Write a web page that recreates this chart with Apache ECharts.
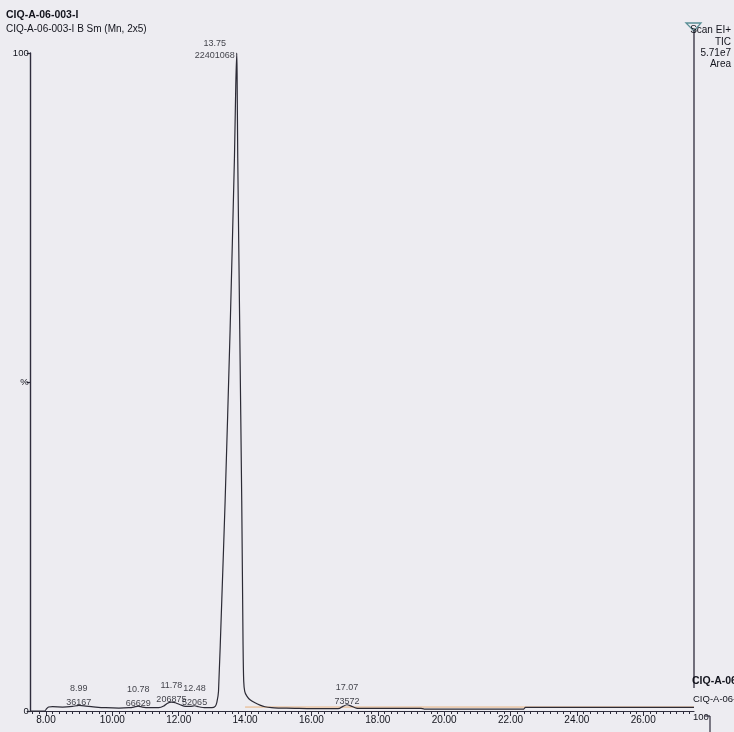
<!DOCTYPE html>
<html><head><meta charset="utf-8">
<script src="https://cdn.jsdelivr.net/npm/echarts@6/dist/echarts.min.js"></script>
<style>html,body{margin:0;padding:0;background:#edecf1}#c{width:734px;height:732px}</style>
</head><body><div id="c"></div>
<script>
// Retention time (min) and relative intensity (%) of the TIC trace
const retentionTimes = [7.54, 7.96, 8.02, 8.08, 8.2, 8.5, 8.8, 8.99, 9.2, 9.5, 9.8, 10.2, 10.5, 10.65, 10.78, 10.9, 11.1, 11.4, 11.55, 11.65, 11.78, 11.9, 12.05, 12.2, 12.35, 12.48, 12.6, 12.8, 13.0, 13.1, 13.15, 13.2, 13.3, 13.4, 13.55, 13.68, 13.72, 13.75, 13.76, 13.78, 13.84, 13.9, 13.94, 13.96, 13.99, 14.05, 14.15, 14.3, 14.45, 14.6, 14.8, 15.0, 15.5, 16.0, 16.5, 16.85, 16.95, 17.07, 17.2, 17.35, 17.6, 18.0, 18.5, 19.0, 19.3, 19.4, 20.0, 21.0, 22.0, 22.4, 22.45, 23.0, 24.0, 25.0, 26.0, 27.0, 27.53];
const intensities    = [0, 0, 0.35, 0.6, 0.65, 0.6, 0.7, 0.85, 0.75, 0.6, 0.5, 0.45, 0.5, 0.6, 0.75, 0.6, 0.5, 0.5, 0.75, 1.15, 1.35, 1.25, 0.95, 0.7, 0.7, 0.8, 0.65, 0.5, 0.5, 0.7, 1.3, 3, 17, 32, 58, 84, 95, 100, 97, 84, 58, 32, 10, 4.5, 3, 2.3, 1.7, 1.25, 0.9, 0.65, 0.5, 0.45, 0.4, 0.35, 0.35, 0.4, 0.7, 0.95, 0.75, 0.45, 0.4, 0.4, 0.4, 0.4, 0.4, 0.3, 0.3, 0.3, 0.3, 0.3, 0.55, 0.55, 0.55, 0.55, 0.55, 0.55, 0.55];

// Integrated peaks
const peakRT     = [8.99, 10.78, 11.78, 12.48, 13.75, 17.07];
const peakArea   = [36167, 66629, 206875, 52065, 22401068, 73572];
const peakHeight = [0.85, 0.75, 1.35, 0.8, 100, 0.95];

// Integration baseline
const baselineTimes  = [14.0, 27.53];
const baselineValues = [0.6, 0.6];

// Axis ticks
const xLabelValues = [8, 10, 12, 14, 16, 18, 20, 22, 24, 26];
const xMinorTicks = [];
for (let k = 38; k <= 137; k++) xMinorTicks.push(k / 5);
const yTickValues = [0, 50, 100];
const yTickLabels = ['0', '%', '100'];

const FONT = "'Liberation Sans Narrow', 'Liberation Sans', Arial, sans-serif";
const TXT = '#12131c';

const chart = echarts.init(document.getElementById('c'), null, {renderer: 'canvas'});
const trace = retentionTimes.map((t, i) => [t, intensities[i]]);
const baseline = baselineTimes.map((t, i) => [t, baselineValues[i]]);
const peaks = peakRT.map((t, i) => {
  const big = peakHeight[i] >= 50;
  return {
    value: [t, peakHeight[i]],
    label: big
      ? {position: 'top', distance: 0, offset: [-22, 9], lineHeight: 12}
      : {position: 'top', distance: 0, offset: [0, 4], lineHeight: 14}
  };
});

chart.setOption({
  backgroundColor: '#edecf1',
  animation: false,
  grid: {left: 30.7, right: 40, top: 53, bottom: 21, containLabel: false},
  xAxis: [{
    type: 'value', min: 7.54, max: 27.53,
    axisLine: {show: true, lineStyle: {color: '#2e2c3c', width: 1.2}},
    axisTick: {show: true, length: 3, customValues: xMinorTicks, lineStyle: {color: '#2e2c3c'}},
    axisLabel: {show: false},
    splitLine: {show: false}
  }, {
    type: 'value', min: 7.54, max: 27.53, position: 'bottom',
    axisLine: {show: false},
    axisTick: {show: true, length: 5, customValues: xLabelValues, lineStyle: {color: '#2e2c3c'}},
    axisLabel: {show: true, customValues: xLabelValues, margin: 4, fontFamily: FONT, fontSize: 10, color: TXT,
      formatter: v => v.toFixed(2)},
    splitLine: {show: false}
  }],
  yAxis: {
    type: 'value', min: 0, max: 100, interval: 50,
    axisLine: {show: true, lineStyle: {color: '#2e2c3c', width: 1.4}},
    axisTick: {show: true, length: 4, lineStyle: {color: '#2e2c3c', width: 1.2}},
    axisLabel: {margin: 2, fontFamily: FONT, fontSize: 9.5, color: TXT,
      formatter: v => yTickLabels[yTickValues.indexOf(v)]},
    splitLine: {show: false}
  },
  series: [{
    type: 'line', name: 'baseline', data: baseline, symbol: 'none', silent: true,
    lineStyle: {color: '#e8b27c', width: 1}, z: 1
  }, {
    type: 'line', name: 'TIC', data: trace, symbol: 'none', smooth: 0.2, clip: false,
    lineStyle: {color: '#2c2b36', width: 1.2}, z: 3
  }, {
    type: 'scatter', name: 'peaks', data: peaks, symbolSize: 0, silent: true, z: 4,
    label: {show: true, fontFamily: FONT, fontSize: 9, color: TXT, align: 'center',
      formatter: p => p.value[0].toFixed(2) + '\n' + peakArea[p.dataIndex]}
  }],
  graphic: [
    {type: 'text', left: 6, top: 10, style: {text: 'CIQ-A-06-003-I', font: 'bold 10.5px ' + FONT, fill: TXT}},
    {type: 'text', left: 6, top: 24, style: {text: 'CIQ-A-06-003-I B Sm (Mn, 2x5)', font: '10px ' + FONT, fill: TXT}},
    {type: 'polygon', shape: {points: [[686, 23], [701, 23], [694, 31]]}, style: {fill: 'none', stroke: '#5a8f96', lineWidth: 1.3}},
    {type: 'line', shape: {x1: 694, y1: 30, x2: 694, y2: 688}, style: {stroke: '#2e2c3c', lineWidth: 1.3}},
    {type: 'text', right: 3, top: 25, style: {text: 'Scan EI+', font: '10px ' + FONT, fill: TXT, align: 'right'}},
    {type: 'text', right: 3, top: 37, style: {text: 'TIC', font: '10px ' + FONT, fill: TXT, align: 'right'}},
    {type: 'text', right: 3, top: 48, style: {text: '5.71e7', font: '10px ' + FONT, fill: TXT, align: 'right'}},
    {type: 'text', right: 3, top: 59, style: {text: 'Area', font: '10px ' + FONT, fill: TXT, align: 'right'}},
    {type: 'text', left: 692, top: 676, style: {text: 'CIQ-A-06-003-I', font: 'bold 10.5px ' + FONT, fill: TXT}},
    {type: 'text', left: 693, top: 694, style: {text: 'CIQ-A-06-003-I', font: '9.5px ' + FONT, fill: TXT}},
    {type: 'text', left: 693, top: 712, style: {text: '100', font: '9.5px ' + FONT, fill: TXT}},
    {type: 'line', shape: {x1: 705, y1: 716, x2: 710, y2: 716}, style: {stroke: '#2e2c3c', lineWidth: 1.2}},
    {type: 'line', shape: {x1: 710, y1: 716, x2: 710, y2: 732}, style: {stroke: '#2e2c3c', lineWidth: 1.2}}
  ]
});
</script></body></html>
